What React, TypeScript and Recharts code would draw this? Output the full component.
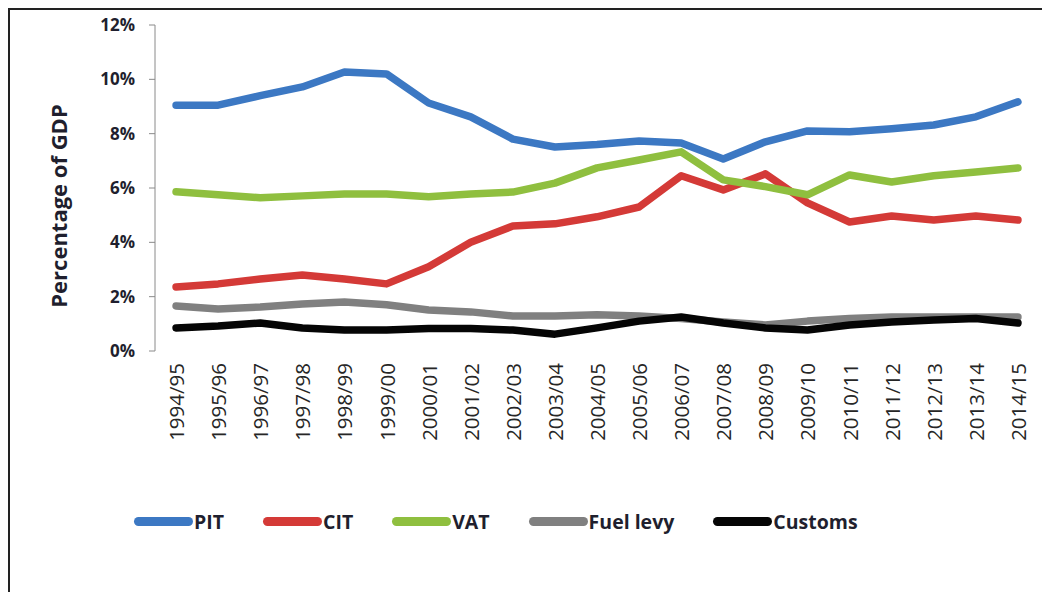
import { LineChart, Line, XAxis, YAxis, Legend } from 'recharts';

const years = [
  '1994/95', '1995/96', '1996/97', '1997/98', '1998/99', '1999/00', '2000/01',
  '2001/02', '2002/03', '2003/04', '2004/05', '2005/06', '2006/07', '2007/08',
  '2008/09', '2009/10', '2010/11', '2011/12', '2012/13', '2013/14', '2014/15',
];

const pit = [9.05, 9.05, 9.4, 9.72, 10.27, 10.2, 9.13, 8.62, 7.8, 7.51, 7.6, 7.73, 7.66, 7.07, 7.7, 8.1, 8.07, 8.18, 8.32, 8.62, 9.17];
const cit = [2.36, 2.47, 2.65, 2.8, 2.65, 2.47, 3.1, 4.0, 4.6, 4.68, 4.94, 5.3, 6.45, 5.93, 6.52, 5.45, 4.75, 4.97, 4.82, 4.97, 4.82];
const vat = [5.86, 5.75, 5.64, 5.71, 5.78, 5.78, 5.68, 5.78, 5.85, 6.18, 6.74, 7.03, 7.33, 6.3, 6.05, 5.75, 6.48, 6.22, 6.45, 6.59, 6.74];
const fuelLevy = [1.66, 1.55, 1.62, 1.73, 1.8, 1.7, 1.51, 1.44, 1.29, 1.29, 1.33, 1.29, 1.2, 1.07, 0.96, 1.1, 1.2, 1.25, 1.25, 1.25, 1.25];
const customs = [0.85, 0.92, 1.03, 0.85, 0.77, 0.77, 0.83, 0.83, 0.77, 0.62, 0.85, 1.1, 1.25, 1.03, 0.85, 0.77, 0.96, 1.07, 1.14, 1.2, 1.03];

const yTicks = [0, 2, 4, 6, 8, 10, 12];
// boundaries between the year bands, where Excel puts its tick marks
const bandEdges = Array.from({ length: years.length + 1 }, (_, i) => i);

const series = [
  { key: 'PIT', color: '#3c78c3' },
  { key: 'CIT', color: '#d43a37' },
  { key: 'VAT', color: '#8fbf3f' },
  { key: 'Fuel levy', color: '#808080' },
  { key: 'Customs', color: '#050505' },
];

const data = years.map((year, i) => ({
  year,
  PIT: pit[i],
  CIT: cit[i],
  VAT: vat[i],
  'Fuel levy': fuelLevy[i],
  Customs: customs[i],
}));

const FONT = '"Open Sans", sans-serif';
const AXIS_GREY = '#8a8a8a';

function YearTick({ x, y, payload }: any) {
  return (
    <text
      x={x}
      y={y}
      transform={`rotate(-90 ${x} ${y})`}
      textAnchor="end"
      dominantBaseline="central"
      fontSize={20.5}
      fontFamily={FONT}
      fill="#262626"
    >
      {payload.value}
    </text>
  );
}

function YLabel({ viewBox }: any) {
  const x = viewBox.x + 48;
  const y = 196;
  return (
    <text
      x={x}
      y={y}
      transform={`rotate(-90 ${x} ${y})`}
      textAnchor="middle"
      dominantBaseline="central"
      fontSize={22}
      fontWeight={700}
      fontFamily={FONT}
      fill="#1f1f2e"
    >
      Percentage of GDP
    </text>
  );
}

function LegendRow({ payload }: any) {
  const ordered = series
    .map((s) => payload.find((p: any) => p.value === s.key))
    .filter(Boolean);
  return (
    <div style={{ display: 'flex', alignItems: 'center', fontFamily: FONT }}>
      {ordered.map((p: any) => (
        <div key={p.value} style={{ display: 'flex', alignItems: 'center', marginRight: 39 }}>
          <span
            style={{
              display: 'inline-block',
              width: 59,
              height: 9,
              borderRadius: 4.5,
              background: p.color,
              marginRight: 1,
            }}
          />
          <span style={{ fontSize: 19.5, fontWeight: 700, color: '#1f1f2e' }}>{p.value}</span>
        </div>
      ))}
    </div>
  );
}

export default function App() {
  return (
    <div
      style={{
        position: 'relative',
        width: 1042,
        height: 584,
        boxSizing: 'border-box',
        borderTop: '2px solid #222',
        borderLeft: '2px solid #222',
        background: '#fff',
      }}
    >
      <LineChart width={1040} height={582} data={data} margin={{ top: 15, right: 11, left: 0, bottom: 141 }}>
        <XAxis
          xAxisId="edges"
          type="number"
          dataKey={() => 0}
          domain={[0, years.length]}
          ticks={bandEdges}
          interval={0}
          tick={false}
          height={0}
          tickSize={6}
          stroke={AXIS_GREY}
          allowDataOverflow
        />
        <XAxis
          xAxisId="cat"
          dataKey="year"
          scale="band"
          height={100}
          interval={0}
          axisLine={false}
          tickLine={false}
          tickSize={0}
          tickMargin={12}
          tick={<YearTick />}
        />
        <YAxis
          width={145}
          domain={[0, 12]}
          ticks={yTicks}
          interval={0}
          tickFormatter={(v: number) => `${v}%`}
          tickSize={6}
          tickMargin={14}
          stroke={AXIS_GREY}
          tick={{ fill: '#1f1f2e', fontSize: 17, fontWeight: 700, fontFamily: FONT }}
          label={<YLabel />}
        />
        <Legend
          layout="horizontal"
          verticalAlign="middle"
          align="center"
          wrapperStyle={{ left: 124, top: 498, width: 'auto' }}
          content={<LegendRow />}
        />
        {series.map((s) => (
          <Line
            key={s.key}
            xAxisId="cat"
            dataKey={s.key}
            stroke={s.color}
            strokeWidth={7.5}
            strokeLinecap="round"
            strokeLinejoin="round"
            dot={false}
            activeDot={false}
            isAnimationActive={false}
          />
        ))}
      </LineChart>
    </div>
  );
}
